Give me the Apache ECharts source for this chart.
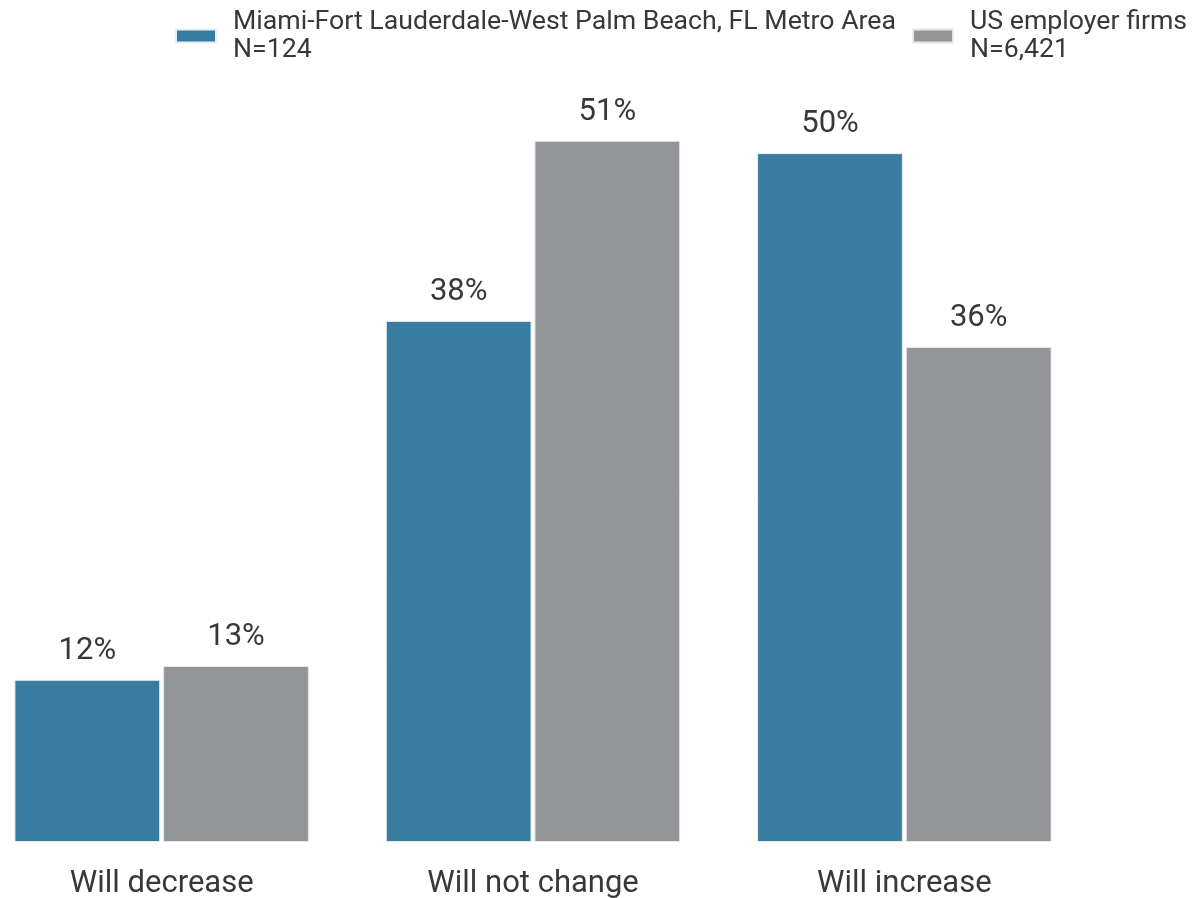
<!DOCTYPE html>
<html>
<head>
<meta charset="utf-8">
<script src="https://cdn.jsdelivr.net/npm/echarts@6/dist/echarts.min.js"></script>
<style>
  html, body { margin: 0; padding: 0; background: #fff; }
  #chart { width: 1194px; height: 898px; }
</style>
</head>
<body>
<div id="chart"></div>
<script>
// 数据
const categories = ['Will decrease', 'Will not change', 'Will increase']
const seriesNames = ['Miami-Fort Lauderdale-West Palm Beach, FL Metro Area\nN=124', 'US employer firms\nN=6,421']
const miamiValues = [11.8, 37.9, 50.1]
const usValues = [12.8, 51.0, 36.0]

const font = 'Roboto, "Noto Sans", sans-serif'
const textColor = '#383838'

const labelOpt = {
  show: true,
  position: 'top',
  distance: 13,
  fontFamily: font,
  fontSize: 31,
  color: textColor,
  formatter: p => Math.round(p.value) + '%'
}

const option = {
  animation: false,
  legend: {
    top: 3,
    left: 170,
    itemWidth: 40,
    itemHeight: 13,
    itemGap: 16,
    icon: 'rect',
    textStyle: { fontFamily: font, fontSize: 26.7, lineHeight: 28, color: textColor, padding: [0, 0, 0, 12] },
    data: seriesNames
  },
  grid: { left: -24, width: 1114, top: 17, bottom: 56, outerBoundsMode: 'none', containLabel: false },
  xAxis: {
    type: 'category',
    data: categories,
    axisLine: { show: false },
    axisTick: { show: false },
    axisLabel: { fontFamily: font, fontSize: 31, color: textColor, margin: 27 }
  },
  yAxis: {
    type: 'value',
    min: 0,
    max: 60,
    show: false,
    splitLine: { show: false }
  },
  series: [
    {
      name: seriesNames[0],
      type: 'bar',
      data: miamiValues,
      barGap: '2%',
      barCategoryGap: '20.7%',
      itemStyle: { color: '#387d9f', borderColor: '#e6eef2', borderWidth: 1 },
      label: labelOpt
    },
    {
      name: seriesNames[1],
      type: 'bar',
      data: usValues,
      itemStyle: { color: '#939598', borderColor: '#e8e8e9', borderWidth: 1 },
      label: labelOpt
    }
  ]
}

const chart = echarts.init(document.getElementById('chart'))
chart.setOption(option)
</script>
</body>
</html>
